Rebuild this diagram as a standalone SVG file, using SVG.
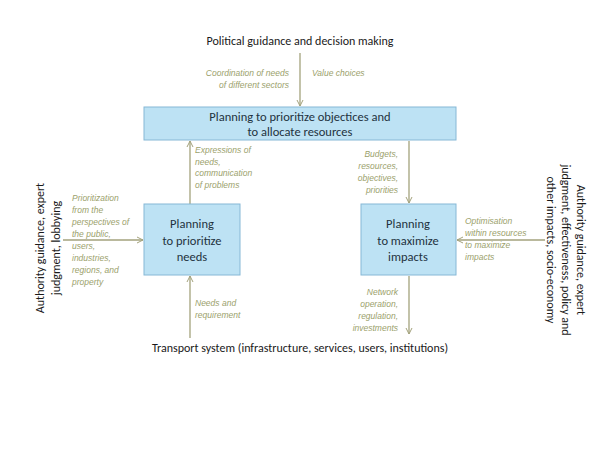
<svg xmlns="http://www.w3.org/2000/svg" width="600" height="450" viewBox="0 0 600 450">
<defs>
<marker id="ah" markerWidth="8" markerHeight="8" refX="7" refY="4" orient="auto" markerUnits="userSpaceOnUse">
<path d="M1,1 L7,4 L1,7" fill="none" stroke="#a3a27c" stroke-width="1"/>
</marker>
<style>
.box{fill:#bde2f4;stroke:#86b8d6;stroke-width:1}
.t{font-family:Calibri,"Liberation Sans",sans-serif;font-size:12px;fill:#1a1a1a}
.bt{font-family:Calibri,"Liberation Sans",sans-serif;font-size:12.5px;fill:#1f3240;text-anchor:middle}
.l{font-family:"Liberation Sans",sans-serif;font-size:8.5px;font-style:italic;fill:#9ba16c}
.c{stroke:#a3a27c;stroke-width:1.3;fill:none;marker-end:url(#ah)}
</style>
</defs>
<rect width="600" height="450" fill="#fff"/>
<g id="connectors">
<line class="c" x1="300" y1="53" x2="300" y2="106"/>
<line class="c" x1="190" y1="204" x2="190" y2="141"/>
<line class="c" x1="409" y1="141" x2="409" y2="203"/>
<line class="c" x1="63" y1="240" x2="143" y2="240"/>
<line class="c" x1="545" y1="240" x2="457" y2="240"/>
<line class="c" x1="190" y1="338" x2="190" y2="276"/>
<line class="c" x1="409" y1="276" x2="409" y2="334"/>
</g>
<g id="top"><text class="t" x="300" y="45" text-anchor="middle" font-size="12.5">Political guidance and decision making</text></g>
<g id="bottom"><text class="t" x="300" y="352" text-anchor="middle">Transport system (infrastructure, services, users, institutions)</text></g>
<g id="n1"><rect class="box" x="144" y="107" width="312" height="33"/>
<text class="bt" x="300" y="121">Planning to prioritize  objectices and</text>
<text class="bt" x="300" y="136">to allocate resources</text></g>
<g id="n2"><rect class="box" x="144" y="204" width="96" height="71"/>
<text class="bt" x="192" y="228">Planning</text><text class="bt" x="192" y="245">to prioritize</text><text class="bt" x="192" y="261">needs</text></g>
<g id="n3"><rect class="box" x="361" y="204" width="95" height="71"/>
<text class="bt" x="408" y="228">Planning</text><text class="bt" x="408" y="245">to maximize</text><text class="bt" x="408" y="261">impacts</text></g>
<g id="labels">
<text class="l" text-anchor="end"><tspan x="289" y="76">Coordination of needs</tspan><tspan x="289" y="88">of different sectors</tspan></text>
<text class="l" x="312" y="76">Value choices</text>
<text class="l"><tspan x="195" y="153">Expressions of</tspan><tspan x="195" y="165">needs,</tspan><tspan x="195" y="176">communication</tspan><tspan x="195" y="188">of problems</tspan></text>
<text class="l" text-anchor="end"><tspan x="398" y="157">Budgets,</tspan><tspan x="398" y="169">resources,</tspan><tspan x="398" y="181">objectives,</tspan><tspan x="398" y="193">priorities</tspan></text>
<text class="l"><tspan x="72" y="201">Prioritization</tspan><tspan x="72" y="213">from the</tspan><tspan x="72" y="225">perspectives of</tspan><tspan x="72" y="237">the public,</tspan><tspan x="72" y="249">users,</tspan><tspan x="72" y="261">industries,</tspan><tspan x="72" y="273">regions, and</tspan><tspan x="72" y="285">property</tspan></text>
<text class="l"><tspan x="465" y="224">Optimisation</tspan><tspan x="465" y="236">within resources</tspan><tspan x="465" y="248">to maximize</tspan><tspan x="465" y="260">impacts</tspan></text>
<text class="l"><tspan x="195" y="306">Needs and</tspan><tspan x="195" y="318">requirement</tspan></text>
<text class="l" text-anchor="end"><tspan x="398" y="295">Network</tspan><tspan x="398" y="307">operation,</tspan><tspan x="398" y="319">regulation,</tspan><tspan x="398" y="331">investments</tspan></text>
</g>
<g id="leftside"><text class="t" font-size="13" text-anchor="middle" transform="translate(48,248) rotate(-90)"><tspan x="0" y="-4">Authority guidance, expert</tspan><tspan x="0" y="12">judgment, lobbying</tspan></text></g>
<g id="rightside"><text class="t" font-size="13" text-anchor="middle" transform="translate(563,250) rotate(90)"><tspan x="0" y="-14">Authority guidance, expert</tspan><tspan x="0" y="1">judgment, effectiveness,  policy and</tspan><tspan x="0" y="16">other impacts, socio-economy</tspan></text></g>
</svg>
